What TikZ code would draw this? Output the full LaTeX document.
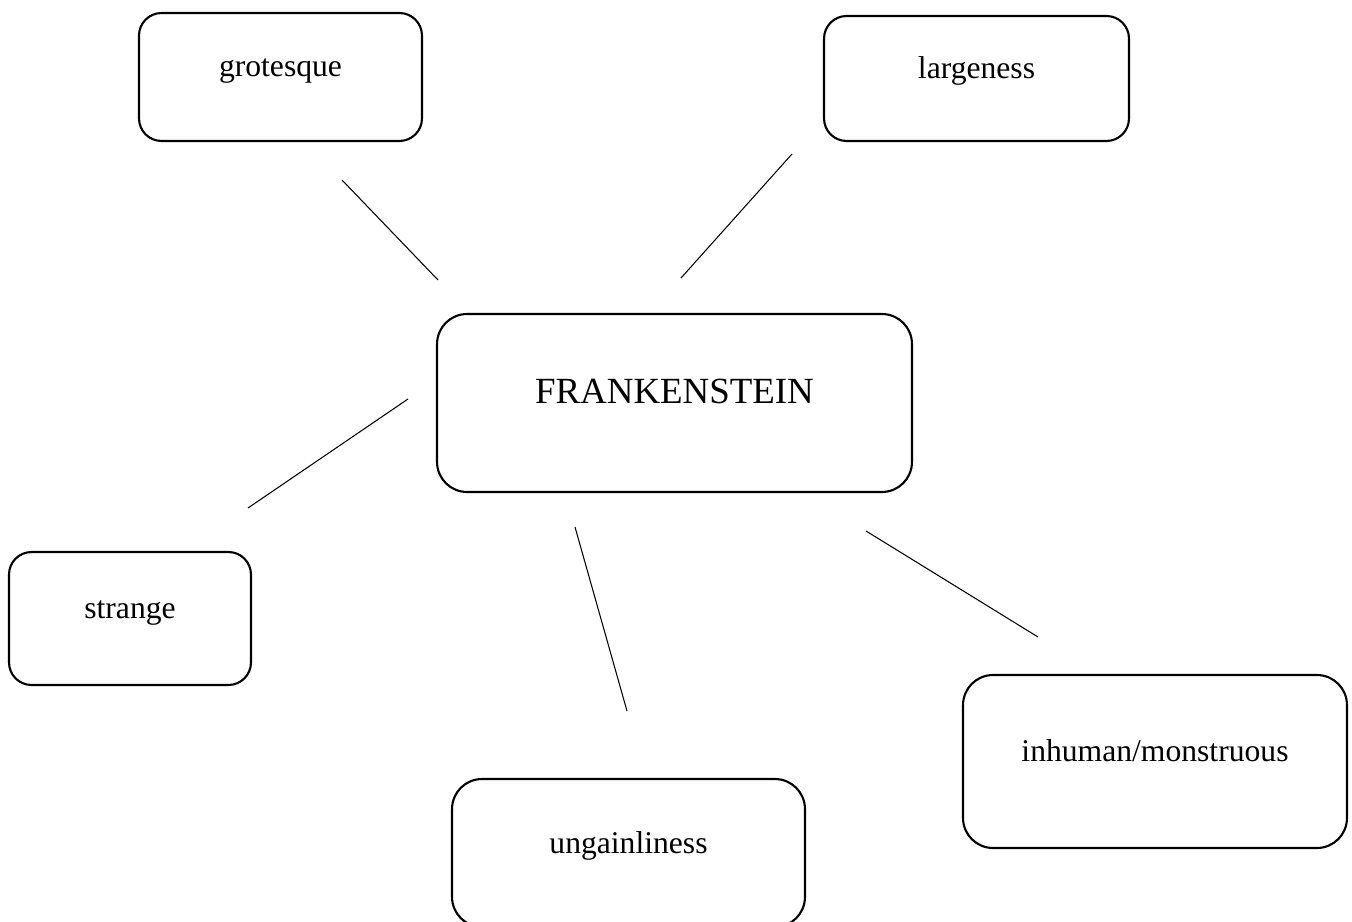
\documentclass[tikz,border=0pt]{standalone}
\usepackage{fontspec}
\setmainfont{Liberation Serif}
\tikzset{
	wordbox/.style={draw, line width=1.2pt, rounded corners=0.45cm, text height=0pt, text depth=0pt, font=\fontsize{18}{20}\selectfont},
	bigbox/.style={wordbox, rounded corners=0.6cm},
	spoke/.style={line width=0.6pt}
}
\begin{document}
\begin{tikzpicture}[x=0.02cm, y=-0.02cm]
			\useasboundingbox (0,0) rectangle (1352,922);
			\node[bigbox, minimum width=9.5cm, minimum height=3.56cm, font=\fontsize{21}{24}\selectfont] (frank) at (674.5,403) {FRANKENSTEIN};
			\node[wordbox, minimum width=5.66cm, minimum height=2.56cm] (grotesque) at (280.5,77) {grotesque};
			\node[wordbox, minimum width=6.1cm, minimum height=2.5cm] (largeness) at (976.5,78.5) {largeness};
			\node[wordbox, minimum width=4.84cm, minimum height=2.66cm] (strange) at (130,618.5) {strange};
			\node[bigbox, minimum width=7.06cm, minimum height=2.96cm] (ungainliness) at (628.5,853) {ungainliness};
			\node[bigbox, minimum width=7.68cm, minimum height=3.46cm] (inhuman) at (1155,761.5) {inhuman/monstruous};
			\coordinate (g1) at (342,180); \coordinate (g2) at (438,280);
			\coordinate (l1) at (792,154); \coordinate (l2) at (681,278);
			\coordinate (s1) at (408,399); \coordinate (s2) at (248,508);
			\coordinate (u1) at (575,527); \coordinate (u2) at (627,711);
			\coordinate (i1) at (866,531); \coordinate (i2) at (1038,637);
			\draw[spoke](g1)--(g2);
			\draw[spoke](l1)--(l2);
			\draw[spoke](s1)--(s2);
			\draw[spoke](u1)--(u2);
			\draw[spoke](i1)--(i2);
		\end{tikzpicture}
\end{document}
